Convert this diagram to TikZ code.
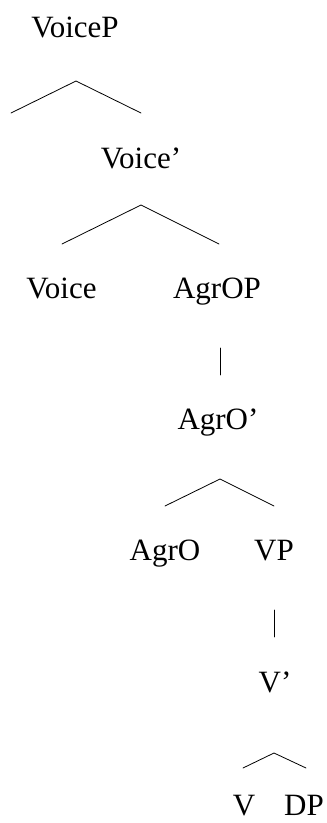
\documentclass[tikz,border=0pt]{standalone}
\usepackage{fontspec}
\setmainfont{Liberation Serif}
\begin{document}
\begin{tikzpicture}[x=1pt,y=-1pt,
  cat/.style={anchor=base,inner sep=0pt,font=\fontsize{31}{37}\selectfont},
  branch/.style={line width=0.8pt,line cap=round,line join=miter}]
\useasboundingbox (0,0) rectangle (327,823);

% category labels (placed on their baselines)
\node[cat] (voiceP)  at (75,37)   {VoiceP};
\node[cat] (voiceB)  at (141,168) {Voice’};
\node[cat] (voice)   at (61.5,298){Voice};
\node[cat] (agrOP)   at (217,298) {AgrOP};
\node[cat] (agrOB)   at (218,429) {AgrO’};
\node[cat] (agrO)    at (165,560) {AgrO};
\node[cat] (vP)      at (274,560) {VP};
\node[cat] (vB)      at (275,692) {V’};
\node[cat] (v)       at (244,815) {V};
\node[cat] (dP)      at (304,815) {DP};

% branch points
\coordinate (voicePtop)  at (76,81);
\coordinate (voicePspec) at (11,113);
\coordinate (voicePbar)  at (141,113);
\coordinate (voiceBtop)  at (141,205);
\coordinate (voiceBl)    at (62,244);
\coordinate (voiceBr)    at (219,244);
\coordinate (agrOPtop)   at (220,348);
\coordinate (agrOPbot)   at (220,375);
\coordinate (agrOBtop)   at (220,479);
\coordinate (agrOBl)     at (165,506);
\coordinate (agrOBr)     at (274,506);
\coordinate (vPtop)      at (274,610);
\coordinate (vPbot)      at (274,637);
\coordinate (vBtop)      at (274,753);
\coordinate (vBl)        at (243,768);
\coordinate (vBr)        at (306,768);

% branches
\draw[branch] (voicePspec) -- (voicePtop) -- (voicePbar);
\draw[branch] (voiceBl) -- (voiceBtop) -- (voiceBr);
\draw[branch] (agrOPtop) -- (agrOPbot);
\draw[branch] (agrOBl) -- (agrOBtop) -- (agrOBr);
\draw[branch] (vPtop) -- (vPbot);
\draw[branch] (vBl) -- (vBtop) -- (vBr);
\end{tikzpicture}
\end{document}
